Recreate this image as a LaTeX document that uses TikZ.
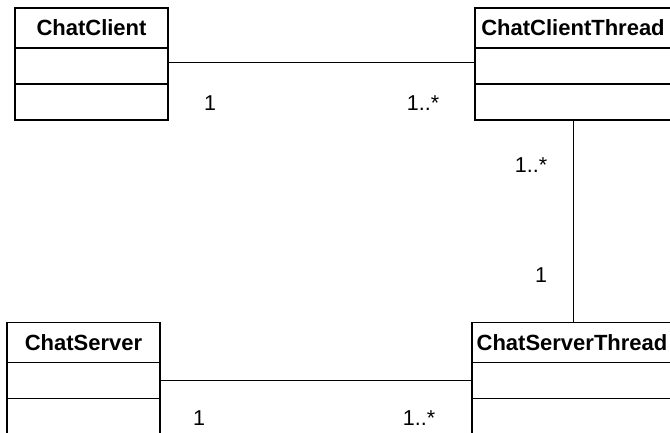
\documentclass[tikz,border=0pt]{standalone}
\usepackage{fontspec}
\setmainfont{Liberation Sans}
\usetikzlibrary{positioning}

\tikzset{
  classhead/.style={draw, line width=1.6pt, outer sep=0pt, inner sep=0pt,
    minimum height=40pt, font=\bfseries\fontsize{22}{24}\selectfont},
  classpart/.style={draw, line width=1.6pt, outer sep=0pt, inner sep=0pt,
    minimum height=36pt},
  assoc/.style={line width=1pt},
  mult/.style={anchor=base, inner sep=0pt, font=\fontsize{21.5}{24}\selectfont}
}

\begin{document}
\begin{tikzpicture}[x=1pt, y=-1pt]
\useasboundingbox (0,0) rectangle (670,433);
\clip (0,0) rectangle (670,433);

% ChatClient
\node[classhead, minimum width=153pt] (cc) at (91.5,28) {ChatClient};
\node[classpart, minimum width=153pt, below=0pt of cc] (cc1) {};
\node[classpart, minimum width=153pt, below=0pt of cc1] (cc2) {};

% ChatClientThread
\node[classhead, minimum width=196pt] (cct) at (573,28) {ChatClientThread};
\node[classpart, minimum width=196pt, below=0pt of cct] (cct1) {};
\node[classpart, minimum width=196pt, below=0pt of cct1] (cct2) {};

% ChatServer
\node[classhead, minimum width=153pt] (cs) at (83.5,342.5) {ChatServer};
\node[classpart, minimum width=153pt, below=0pt of cs] (cs1) {};
\node[classpart, minimum width=153pt, below=0pt of cs1] (cs2) {};

% ChatServerThread
\node[classhead, minimum width=200pt] (cst) at (572,342.5) {ChatServerThread};
\node[classpart, minimum width=200pt, below=0pt of cst] (cst1) {};
\node[classpart, minimum width=200pt, below=0pt of cst1] (cst2) {};

% associations
\draw[assoc] ([yshift=3pt]cc1.east) -- ([yshift=3pt]cct1.west);
\draw[assoc] (cct2.south) -- (cct2.south |- cst.north);
\draw[assoc] (cs1.east) -- (cst1.west);

% multiplicities
\node[mult] (m1) at (210,111) {1};
\node[mult] (m2) at (423,111) {1..*};
\node[mult] (m3) at (531,173) {1..*};
\node[mult] (m4) at (541,283) {1};
\node[mult] (m5) at (199,425) {1};
\node[mult] (m6) at (419,425) {1..*};
\end{tikzpicture}
\end{document}
